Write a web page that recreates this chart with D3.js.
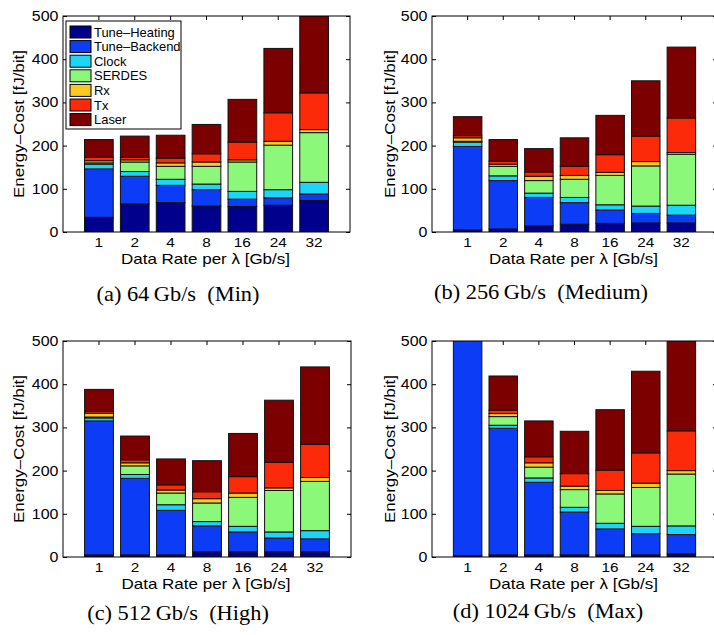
<!DOCTYPE html>
<html>
<head>
<meta charset="utf-8">
<script src="https://cdn.jsdelivr.net/npm/d3@7"></script>
<style>
  html, body { margin: 0; padding: 0; background: #fff; }
  svg { display: block; }
  text { white-space: pre; }
</style>
</head>
<body>
<script>
// Data rate per wavelength (Gb/s) on the x axis
const rates = ["1", "2", "4", "8", "16", "24", "32"];

// Energy components, stacked bottom to top
const components = ["Tune\u2013Heating", "Tune\u2013Backend", "Clock", "SERDES", "Rx", "Tx", "Laser"];

// Energy cost per component [fJ/bit]; one row per component, one column per data rate
const costMin = [
  [34, 65, 68, 60, 59, 62, 73],
  [112, 64, 40, 38, 17, 17, 15],
  [11, 11, 14, 13, 18, 19, 27],
  [3, 22, 30, 41, 68, 103, 115],
  [5, 5, 8, 10, 5, 9, 7],
  [8, 6, 11, 19, 41, 66, 85],
  [41, 49, 53, 68, 99, 149, 178]
];
const costMedium = [
  [5, 7, 14, 18, 20, 21, 21],
  [193, 112, 66, 50, 31, 22, 18],
  [10, 11, 10, 12, 12, 17, 23],
  [2, 22, 29, 42, 68, 93, 118],
  [8, 5, 10, 9, 7, 10, 4],
  [5, 7, 10, 21, 41, 59, 80],
  [44, 50, 54, 66, 91, 128, 164]
];
const costHigh = [
  [5, 5, 5, 12, 12, 12, 12],
  [310, 177, 103, 60, 46, 32, 30],
  [7, 9, 13, 10, 13, 14, 19],
  [2, 20, 27, 43, 67, 96, 114],
  [9, 7, 7, 10, 10, 6, 9],
  [4, 7, 12, 16, 38, 59, 77],
  [51, 55, 60, 72, 100, 144, 179]
];
const costMax = [
  [3, 5, 5, 5, 5, 5, 7],
  [610, 293, 168, 99, 60, 49, 45],
  [12, 7, 10, 11, 13, 17, 20],
  [3, 20, 25, 41, 68, 90, 120],
  [9, 7, 10, 8, 8, 10, 8],
  [6, 8, 14, 29, 47, 70, 92],
  [55, 79, 83, 98, 140, 189, 215]
];

const yTicks = [0, 100, 200, 300, 400, 500];
const captions = [
  "(a) 64\u2009Gb/s  (Min)",
  "(b) 256\u2009Gb/s  (Medium)",
  "(c) 512\u2009Gb/s  (High)",
  "(d) 1024\u2009Gb/s  (Max)"
];
const yTitle = "Energy\u2013Cost [fJ/bit]";
const xTitle = "Data Rate per \u03bb [Gb/s]";

// Colour per component
const palette = ["#00008c", "#0c3cf6", "#1cd6fa", "#8cf87a", "#fcc824", "#fc2a08", "#7c0000"];

const W = 714, H = 635;
const SANS = "'Liberation Sans', Arial, Helvetica, sans-serif";
const SERIF = "'Liberation Serif', 'Times New Roman', serif";
const STRETCH = 1.14;

const svg = d3.select("body").append("svg")
  .attr("width", W).attr("height", H)
  .attr("viewBox", `0 0 ${W} ${H}`);

const layout = [
  { data: costMin,    left: 63,  top: 16,  width: 287, height: 216, capX: 178, capY: 301, ylabX: 19,  legend: true },
  { data: costMedium, left: 432, top: 16,  width: 285, height: 216, capX: 541, capY: 299, ylabX: 390, legend: false },
  { data: costHigh,   left: 63,  top: 341, width: 288, height: 216, capX: 178, capY: 620, ylabX: 19,  legend: false },
  { data: costMax,    left: 432, top: 341, width: 285, height: 216, capX: 548, capY: 618, ylabX: 390, legend: false }
];

function stretchedText(g, x, y, str, opts) {
  const t = g.append("text")
    .attr("transform", `translate(${x},${y}) scale(${opts.sx || STRETCH},1)`)
    .attr("font-family", opts.family || SANS)
    .attr("font-size", opts.size)
    .attr("text-anchor", opts.anchor || "start")
    .attr("fill", "#000")
    .text(str);
  if (opts.dy) t.attr("dy", opts.dy);
  return t;
}

layout.forEach((p, pi) => {
  const g = svg.append("g");
  const bottom = p.top + p.height, right = p.left + p.width;

  const x = d3.scaleBand().domain(rates)
    .range([p.left, right]).paddingInner(0.2).paddingOuter(0.6);
  const y = d3.scaleLinear().domain([0, 500]).range([bottom, p.top]);

  // stack the components for each data rate
  const rows = rates.map((r, i) => {
    const o = { rate: r };
    components.forEach((c, k) => { o[c] = p.data[k][i]; });
    return o;
  });
  const series = d3.stack().keys(components)(rows);

  // inward ticks on all four sides (MATLAB box style)
  const tk = 4;
  const axL = g.append("g").attr("transform", `translate(${p.left},0)`)
    .call(d3.axisLeft(y).tickValues(yTicks).tickSize(-tk).tickPadding(4).tickFormat(d3.format("d")));
  const axR = g.append("g").attr("transform", `translate(${right},0)`)
    .call(d3.axisRight(y).tickValues(yTicks).tickSize(-tk).tickFormat(""));
  const axT = g.append("g").attr("transform", `translate(0,${p.top})`)
    .call(d3.axisTop(x).tickSize(-tk).tickFormat(""));
  const axB = g.append("g").attr("transform", `translate(0,${bottom})`)
    .call(d3.axisBottom(x).tickSize(-tk).tickPadding(6));
  [axL, axR, axT, axB].forEach(a => {
    a.select(".domain").remove();
    a.selectAll(".tick line").attr("stroke", "#000").attr("stroke-width", 1);
  });
  axL.selectAll(".tick text").attr("font-family", SANS).attr("font-size", 14)
    .attr("fill", "#000")
    .attr("transform", `scale(${STRETCH},1)`);
  axB.selectAll(".tick text").attr("font-family", SANS).attr("font-size", 13)
    .attr("fill", "#000")
    .attr("transform", `scale(1.18,1)`);

  // clip bars to the axes box
  const clipId = "clip" + pi;
  svg.append("clipPath").attr("id", clipId)
    .append("rect").attr("x", p.left).attr("y", p.top)
    .attr("width", p.width).attr("height", p.height);

  const bars = g.append("g").attr("clip-path", `url(#${clipId})`);
  series.forEach((s, k) => {
    bars.append("g").attr("fill", palette[k])
      .selectAll("rect").data(s).join("rect")
      .attr("x", d => x(d.data.rate))
      .attr("width", x.bandwidth())
      .attr("y", d => y(d[1]))
      .attr("height", d => y(d[0]) - y(d[1]))
      .attr("stroke", "#111")
      .attr("stroke-width", 1);
  });

  // axes box
  g.append("rect").attr("x", p.left).attr("y", p.top)
    .attr("width", p.width).attr("height", p.height)
    .attr("fill", "none").attr("stroke", "#000").attr("stroke-width", 1);

  // axis titles
  g.append("text")
    .attr("transform", `translate(${p.ylabX},${p.top + p.height / 2}) rotate(-90)`)
    .attr("font-family", SANS).attr("font-size", 15)
    .attr("text-anchor", "middle").attr("dy", "0.35em")
    .attr("textLength", 148).attr("lengthAdjust", "spacingAndGlyphs")
    .text(yTitle);
  g.append("text")
    .attr("x", (p.left + right) / 2 - 1).attr("y", bottom + 32)
    .attr("font-family", SANS).attr("font-size", 15)
    .attr("text-anchor", "middle")
    .attr("textLength", 169).attr("lengthAdjust", "spacingAndGlyphs")
    .text(xTitle);

  // sub-figure caption
  stretchedText(g, p.capX, p.capY, captions[pi],
    { family: SERIF, size: 20, anchor: "middle", sx: 1.12 });

  if (p.legend) {
    const lx = 66, ly = 21, lw = 115, lh = 108;
    const lg = g.append("g");
    lg.append("rect").attr("x", lx).attr("y", ly).attr("width", lw).attr("height", lh)
      .attr("fill", "#fff").attr("stroke", "#000").attr("stroke-width", 1);
    components.forEach((c, k) => {
      const ey = ly + 5 + k * 14.6;
      lg.append("rect").attr("x", lx + 4).attr("y", ey).attr("width", 21).attr("height", 12)
        .attr("fill", palette[k]).attr("stroke", "#000").attr("stroke-width", 1);
      stretchedText(lg, lx + 28, ey + 10.5, c, { size: 12, sx: 1.08 });
    });
  }
});
</script>
</body>
</html>
